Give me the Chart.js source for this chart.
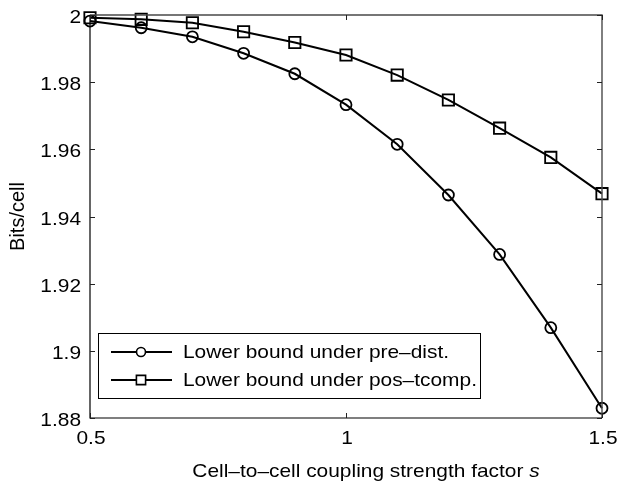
<!DOCTYPE html>
<html>
<head>
<meta charset="utf-8">
<title>Bits per cell vs coupling strength</title>
<script src="https://cdn.jsdelivr.net/npm/chart.js@4/dist/chart.umd.min.js"></script>
<style>
  html, body { margin: 0; padding: 0; background: #fff; }
  #wrap { width: 617px; height: 481px; }
</style>
</head>
<body>
<div id="wrap"><canvas id="bitsChart" width="617" height="481"></canvas></div>
<script>
/* -------------------- DATA -------------------- */
const strength = [0.5, 0.6, 0.7, 0.8, 0.9, 1.0, 1.1, 1.2, 1.3, 1.4, 1.5];
const preDist  = [1.9982, 1.9962, 1.9935, 1.9886, 1.9825, 1.9733, 1.9615, 1.9464, 1.9287, 1.9069, 1.8829];
const posComp  = [1.9992, 1.9987, 1.9977, 1.9950, 1.9918, 1.9881, 1.9821, 1.9747, 1.9663, 1.9576, 1.9468];
const xTicks = [0.5, 1, 1.5];
const yTicks = [1.88, 1.9, 1.92, 1.94, 1.96, 1.98, 2];
const seriesNames = ["Lower bound under pre\u2013dist.", "Lower bound under pos\u2013tcomp."];

/* -------------------- TEXT HELPERS -------------------- */
const FONT_FAMILY = '"Liberation Sans", Arial, Helvetica, sans-serif';
const FONT_PX = 19;
const SX = 1.1; // glyphs are a little wide in this figure

function font(style) {
  return (style ? style + " " : "") + FONT_PX + "px " + FONT_FAMILY;
}

// draws a run of text pieces, stretched horizontally by SX
function drawText(ctx, parts, x, y, align) {
  let width = 0;
  parts.forEach(p => {
    ctx.font = font(p.style);
    width += ctx.measureText(p.text).width;
  });
  width *= SX;
  let startX = x;
  if (align === "right") startX = x - width;
  else if (align === "center") startX = x - width / 2;

  ctx.save();
  ctx.translate(startX, y);
  ctx.scale(SX, 1);
  ctx.textBaseline = "alphabetic";
  ctx.textAlign = "left";
  ctx.fillStyle = "#000";
  let cx = 0;
  parts.forEach(p => {
    ctx.font = font(p.style);
    ctx.fillText(p.text, cx, 0);
    cx += ctx.measureText(p.text).width;
  });
  ctx.restore();
}

/* -------------------- AXES / LEGEND PLUGIN -------------------- */
const matlabAxes = {
  id: "matlabAxes",
  afterDraw(chart) {
    const ctx = chart.ctx;
    const { left, right, top, bottom } = chart.chartArea;
    const xs = chart.scales.x;
    const ys = chart.scales.y;
    const fmt = v => String(+v.toFixed(2));

    ctx.save();

    // box
    ctx.lineWidth = 1.4;
    ctx.strokeStyle = "#4a4a4a";
    ctx.beginPath();
    ctx.moveTo(left, top);
    ctx.lineTo(right, top);
    ctx.lineTo(right, bottom);
    ctx.stroke();
    ctx.strokeStyle = "#000";
    ctx.lineWidth = 1.2;
    ctx.beginPath();
    ctx.moveTo(right, bottom);
    ctx.lineTo(left, bottom);
    ctx.lineTo(left, top);
    ctx.stroke();

    // inward ticks
    const tl = 5;
    ctx.lineWidth = 1;
    ctx.strokeStyle = "#222";
    ctx.beginPath();
    yTicks.forEach(v => {
      const py = Math.round(ys.getPixelForValue(v)) + 0.5;
      ctx.moveTo(left, py); ctx.lineTo(left + tl, py);
      ctx.moveTo(right, py); ctx.lineTo(right - tl, py);
    });
    xTicks.forEach(v => {
      const px = Math.round(xs.getPixelForValue(v)) + 0.5;
      ctx.moveTo(px, bottom); ctx.lineTo(px, bottom - tl);
      ctx.moveTo(px, top); ctx.lineTo(px, top + tl);
    });
    ctx.stroke();

    // tick labels
    yTicks.forEach(v => {
      drawText(ctx, [{ text: fmt(v) }], left - 9, ys.getPixelForValue(v) + 8, "right");
    });
    xTicks.forEach(v => {
      drawText(ctx, [{ text: fmt(v) }], xs.getPixelForValue(v) + 1, bottom + 26, "center");
    });

    // axis titles
    drawText(ctx, [
      { text: "Cell\u2013to\u2013cell coupling strength factor " },
      { text: "s", style: "italic" }
    ], (left + right) / 2 + 20, bottom + 59, "center");

    ctx.save();
    ctx.translate(24, (top + bottom) / 2);
    ctx.rotate(-Math.PI / 2);
    ctx.font = "20px " + FONT_FAMILY;
    ctx.fillStyle = "#000";
    ctx.textAlign = "center";
    ctx.textBaseline = "alphabetic";
    ctx.fillText("Bits/cell", 0, 0);
    ctx.restore();

    // legend
    const lx = 98, ly = 333, lw = 382, lh = 65;
    ctx.fillStyle = "#fff";
    ctx.fillRect(lx, ly, lw, lh);
    ctx.strokeStyle = "#000";
    ctx.lineWidth = 1;
    ctx.strokeRect(lx + 0.5, ly + 0.5, lw, lh);

    chart.data.datasets.forEach((ds, i) => {
      const rowY = ly + 19 + i * 28;
      ctx.strokeStyle = "#000";
      ctx.lineWidth = 2;
      ctx.beginPath();
      ctx.moveTo(111, rowY);
      ctx.lineTo(172, rowY);
      ctx.stroke();
      ctx.lineWidth = 1.6;
      Chart.helpers.drawPoint(ctx, {
        pointStyle: ds.pointStyle,
        radius: ds.pointStyle === "rect" ? 6.5 : 4.5,
        rotation: 0,
        borderWidth: 1.6
      }, 141, rowY);
      drawText(ctx, [{ text: ds.label }], 183, rowY + 6, "left");
    });

    ctx.restore();
  }
};

/* -------------------- CHART -------------------- */
const toPoints = values => strength.map((s, i) => ({ x: s, y: values[i] }));

new Chart(document.getElementById("bitsChart"), {
  type: "line",
  data: {
    datasets: [
      {
        label: seriesNames[0],
        data: toPoints(preDist),
        borderColor: "#000",
        borderWidth: 2,
        pointStyle: "circle",
        pointRadius: 5.5,
        pointBorderWidth: 1.8,
        pointBorderColor: "#000",
        pointBackgroundColor: "rgba(0,0,0,0)",
        clip: false
      },
      {
        label: seriesNames[1],
        data: toPoints(posComp),
        borderColor: "#000",
        borderWidth: 2,
        pointStyle: "rect",
        pointRadius: 8,
        pointBorderWidth: 1.8,
        pointBorderColor: "#000",
        pointBackgroundColor: "rgba(0,0,0,0)",
        clip: false
      }
    ]
  },
  options: {
    responsive: false,
    animation: false,
    devicePixelRatio: 1,
    layout: { padding: { top: 15, right: 15, left: 0, bottom: 0 } },
    plugins: { legend: { display: false }, tooltip: { enabled: false } },
    scales: {
      x: {
        type: "linear",
        min: 0.5,
        max: 1.5,
        grid: { display: false, drawTicks: false },
        border: { display: false },
        ticks: { display: false },
        afterFit: s => { s.height = 63; }
      },
      y: {
        type: "linear",
        min: 1.88,
        max: 2,
        grid: { display: false, drawTicks: false },
        border: { display: false },
        ticks: { display: false },
        afterFit: s => { s.width = 90; }
      }
    }
  },
  plugins: [matlabAxes]
});
</script>
</body>
</html>
